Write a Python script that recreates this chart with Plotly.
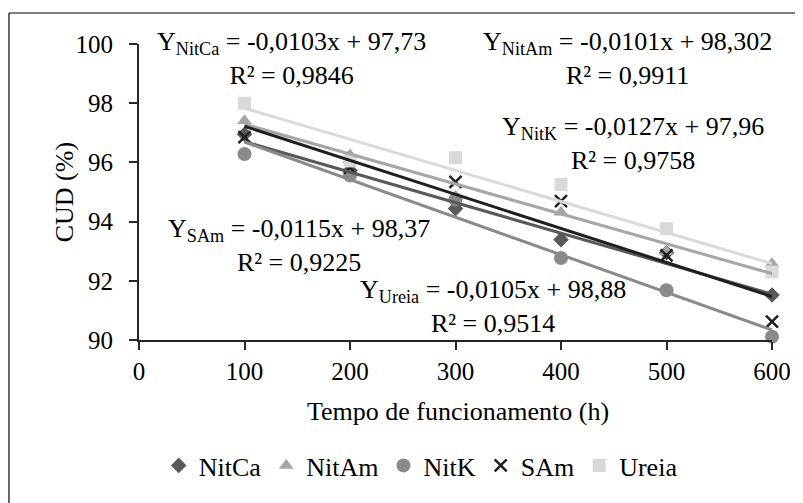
import plotly.graph_objects as go

# ---- data ----
hours = [100, 200, 300, 400, 500, 600]
series_names = ["NitCa", "NitAm", "NitK", "SAm", "Ureia"]
nitca = [96.95, 95.73, 94.44, 93.39, 92.95, 91.52]
nitam = [97.41, 96.25, 94.85, 94.32, 92.98, 92.58]
nitk = [96.28, 95.56, 94.75, 92.77, 91.68, 90.11]
sam = [96.85, 95.82, 95.34, 94.69, 92.86, 90.62]
ureia = [98.00, 96.05, 96.16, 95.25, 93.76, 92.30]

# trendline equations printed on the chart (slope, intercept)
slopes = [-0.0103, -0.0101, -0.0127, -0.0115, -0.0105]
intercepts = [97.73, 98.302, 97.96, 98.37, 98.88]
eq_texts = [
    "Y<sub>NitCa</sub> = -0,0103x + 97,73<br>R² = 0,9846",
    "Y<sub>NitAm</sub> = -0,0101x + 98,302<br>R² = 0,9911",
    "Y<sub>NitK</sub> = -0,0127x + 97,96<br>R² = 0,9758",
    "Y<sub>SAm</sub> = -0,0115x + 98,37<br>R² = 0,9225",
    "Y<sub>Ureia</sub> = -0,0105x + 98,88<br>R² = 0,9514",
]

values = [nitca, nitam, nitk, sam, ureia]
colors = ["#595959", "#a6a6a6", "#8a8a8a", "#1f1f1f", "#d9d9d9"]
symbols = ["diamond", "triangle-up", "circle", "x-thin", "square"]
msizes = [12, 13, 14, 12, 13]

FONT = "'Liberation Serif', 'Times New Roman', Times, serif"
fig = go.Figure()

for name, vals, col, sym, ms in zip(series_names, values, colors, symbols, msizes):
    marker = dict(color=col, symbol=sym, size=ms)
    if sym == "x-thin":
        marker["line"] = dict(color=col, width=2.5)
    fig.add_trace(go.Scatter(x=hours, y=vals, mode="markers", name=name,
                             marker=marker, showlegend=True, cliponaxis=False))

for name, a, b, col in zip(series_names, slopes, intercepts, colors):
    xs = [hours[0], hours[-1]]
    ys = [a * x + b for x in xs]
    fig.add_trace(go.Scatter(x=xs, y=ys, mode="lines", line=dict(color=col, width=3),
                             showlegend=False, hoverinfo="skip", cliponaxis=False))

# annotation positions (data coords)
ann_pos = [(145, 99.5), (463, 99.5), (468, 96.65), (152, 93.2), (336, 91.13)]
for (ax, ay), txt in zip(ann_pos, eq_texts):
    fig.add_annotation(x=ax, y=ay, xref="x", yref="y", text=txt, showarrow=False,
                       font=dict(family=FONT, size=26, color="black"),
                       align="center", xanchor="center", yanchor="middle")

# axis titles
fig.add_annotation(x=0.504, y=-0.243, xref="paper", yref="paper",
                   text="Tempo de funcionamento (h)", showarrow=False,
                   font=dict(family=FONT, size=26, color="black"),
                   xanchor="center", yanchor="middle")
fig.add_annotation(x=-0.118, y=0.5, xref="paper", yref="paper",
                   text="CUD (%)", showarrow=False, textangle=-90,
                   font=dict(family=FONT, size=26, color="black"),
                   xanchor="center", yanchor="middle")

# outer frame (top and left edges visible)
fig.add_shape(type="line", xref="paper", yref="paper", x0=-0.2054, x1=1.06,
              y0=1.1047, y1=1.1047, line=dict(color="#808080", width=2))
fig.add_shape(type="line", xref="paper", yref="paper", x0=-0.2054, x1=-0.2054,
              y0=1.1047, y1=-0.56, line=dict(color="#333333", width=1.5))

fig.update_layout(
    width=795, height=495,
    margin=dict(l=131, r=31, t=36, b=163),
    paper_bgcolor="white", plot_bgcolor="white",
    font=dict(family=FONT, size=25, color="black"),
    legend=dict(orientation="h", x=0.445, xanchor="center", y=-0.424, yanchor="middle",
                font=dict(family=FONT, size=26), itemwidth=30, tracegroupgap=0),
    xaxis=dict(range=[0, 600], dtick=100, tick0=0, showgrid=False, zeroline=False,
               showline=True, linecolor="#262626", linewidth=2,
               ticks="outside", ticklen=8, tickwidth=2, tickcolor="#262626"),
    yaxis=dict(range=[90, 100], dtick=2, tick0=90, showgrid=False, zeroline=False,
               showline=True, linecolor="#262626", linewidth=2,
               ticks="outside", ticklen=8, tickwidth=2, tickcolor="#262626",
               ticklabelstandoff=11),
)

fig.write_html("out.html")
